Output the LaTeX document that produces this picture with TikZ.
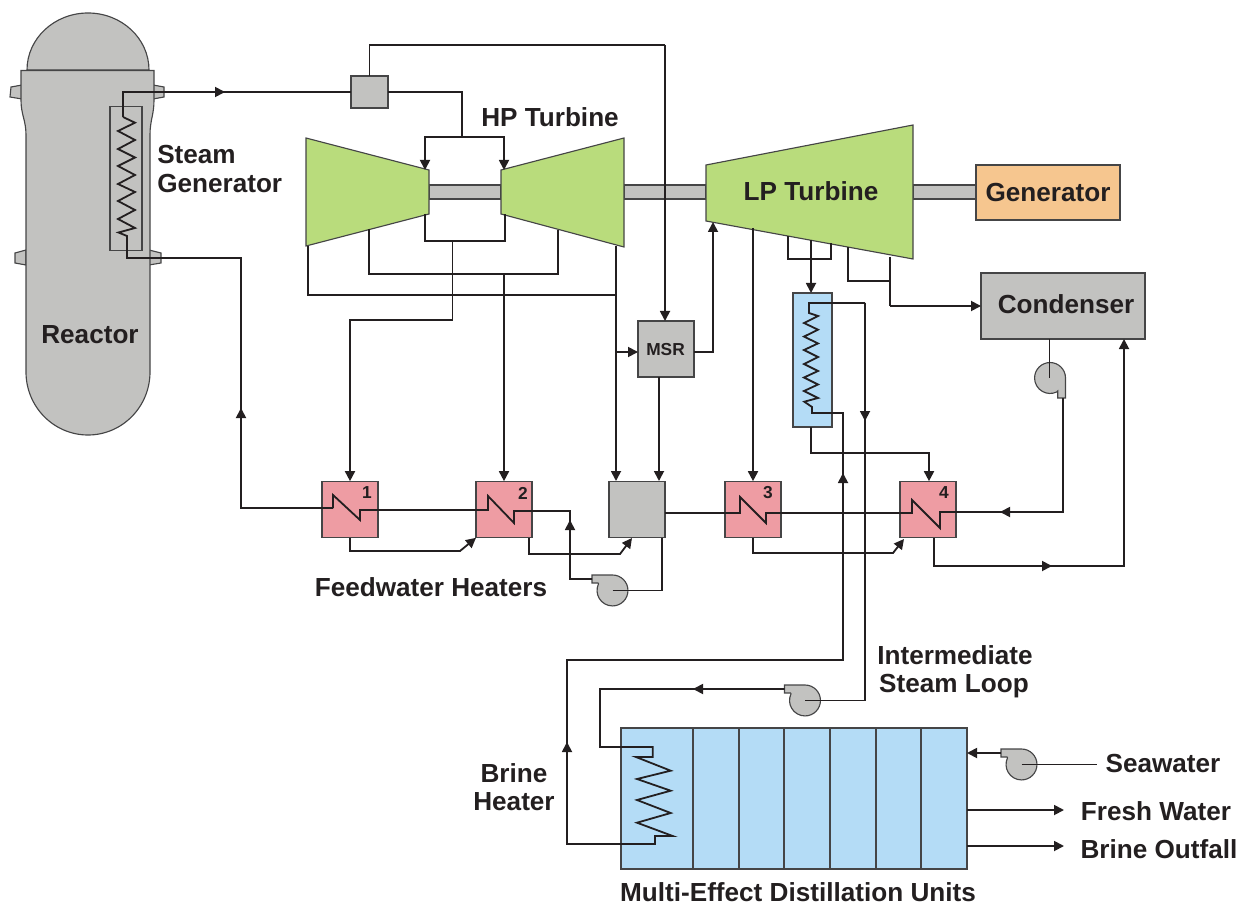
\documentclass[tikz,border=0pt]{standalone}
\usepackage{fontspec}
\setmainfont{Liberation Sans}
\usetikzlibrary{arrows.meta,calc}
\definecolor{ink}{HTML}{231F20}
\definecolor{edgegray}{HTML}{454546}
\definecolor{gfill}{HTML}{C2C2C0}
\definecolor{tfill}{HTML}{B9DC7C}
\definecolor{hfill}{HTML}{EE9CA3}
\definecolor{bfill}{HTML}{B4DCF6}
\definecolor{ofill}{HTML}{F6C68F}
\tikzset{
  ln/.style={draw=ink,line width=1.35pt,line join=miter},
  arr/.style={ln,-{Triangle[length=7.5pt,width=7.5pt]}},
  midarr/.style={draw=ink,line width=1.35pt,-{Triangle[length=7.5pt,width=7.5pt]}},
  shell/.style={draw=edgegray,line width=0.85pt},
  box/.style={shell,inner sep=0pt,outer sep=0pt,anchor=center},
  hx/.style={box,fill=hfill,minimum width=42pt,minimum height=42.5pt},
  num/.style={font=\bfseries\fontsize{13}{15}\selectfont,text=ink,inner sep=0pt},
  lab/.style={font=\bfseries\fontsize{19.6}{23}\selectfont,text=ink,inner sep=0pt},
  pumpA/.pic={
    \draw[shell,fill=gfill] (-20.5,-15.5) -- (0,-15.5) arc[start angle=90,end angle=-205,radius=11.6pt] -- (-14.5,-7.5) -- (-20.5,-7.5) -- cycle;
    \coordinate (-c) at (0,0);
    \coordinate (-o) at (-20.5,-11.5);
  }
}
\begin{document}
\begin{tikzpicture}[x=0.75pt,y=-0.75pt]
\useasboundingbox (0,0) rectangle (1248,905);

% reactor
\draw[shell,fill=gfill] (27,70) arc[start angle=180,end angle=0,x radius=45.75pt,y radius=42.75pt] -- cycle;
\foreach \a/\b/\c/\d/\e/\f/\g/\h in {22/85/11/87/10/97/22/99, 153/85/164/87/164/97/153/99, 26/250/15/253/15/263/26/265, 149/250/161/253/161/263/149/265}
  \draw[shell,fill=gfill] (\a,\b) -- (\c,\d) -- (\e,\f) -- (\g,\h) -- cycle;
\draw[shell,fill=gfill] (21,70.5) -- (154,70.5) -- (154,100) .. controls (154,115) and (150,120) .. (150,135) -- (150,372)
  arc[start angle=0,end angle=-180,x radius=46.5pt,y radius=47.25pt] -- (26,135) .. controls (26,120) and (21,115) .. (21,100) -- cycle;
\node[box,minimum width=24pt,minimum height=108pt] (sg) at (126,178.5) {};

% shafts
\node[box,fill=gfill,minimum width=54pt,minimum height=10.5pt] (sh1) at (465,192) {};
\node[box,fill=gfill,minimum width=61.5pt,minimum height=10.5pt] (sh2) at (665,192) {};
\node[box,fill=gfill,minimum width=47.25pt,minimum height=10.5pt] (sh3) at (944.5,192) {};

% turbines
\draw[shell,fill=tfill] (306,138) -- (429,170) -- (429,214) -- (306,246) -- cycle;
\draw[shell,fill=tfill] (501,170) -- (624,138) -- (624,247) -- (501,214) -- cycle;
\draw[shell,fill=tfill] (706,165) -- (913,125) -- (913,259) -- (706,221) -- cycle;

% boxes
\node[box,fill=gfill,minimum width=27.75pt,minimum height=24pt] (valve) at (369.5,92) {};
\node[box,fill=ofill,minimum width=108pt,minimum height=41.25pt] (gen) at (1048,192.5) {};
\node[box,fill=gfill,minimum width=123pt,minimum height=49.5pt] (cond) at (1063,306) {};
\node[box,fill=gfill,minimum width=42pt,minimum height=42pt] (msr) at (666,349) {};
\node[box,fill=bfill,minimum width=29.25pt,minimum height=100.5pt] (bh) at (812.5,360) {};
\node[hx] (h1) at (350,509.5) {};
\node[hx] (h2) at (504,509.5) {};
\node[box,fill=gfill,minimum width=42pt,minimum height=42.5pt] (mix) at (637,509.5) {};
\node[hx] (h3) at (753,509.5) {};
\node[hx] (h4) at (928,509.5) {};
\node[box,fill=bfill,minimum width=259.5pt,minimum height=105.75pt] (med) at (794,798.5) {};
\foreach \x/\n in {693/a,739/b,784/c,830/d,876/e,921/f}
  \draw[shell] (\x,728) -- (\x,869);

% pumps
\pic (p1) at (612.5,590.5) {pumpA};
\pic (p2) at (805,700.5) {pumpA};
\pic (p3) at (1021.5,764.5) {pumpA};
\draw[shell,fill=gfill] (1065.5,378) arc[start angle=0,end angle=295,radius=11.6pt] -- (1057.7,391) -- (1057.7,398) -- (1065.5,398) -- cycle;
\coordinate (p4c) at (1049.5,378);
\coordinate (p4o) at (1063,398);

% ports
\coordinate (tL1) at (425,170);
\coordinate (tR1) at (504,170);
\coordinate (split) at (462,137);
\coordinate (lpin) at (713,222);
\coordinate (msrtop) at (665,321);
\coordinate (mixA) at (616,481);
\coordinate (mixB) at (659,481);
\coordinate (h1in) at (333,508);
\coordinate (h2in) at (488,510);
\coordinate (freshend) at (1064,810);
\coordinate (brineend) at (1064,846);
\coordinate (seaend) at (1097,764.5);

% steam line and steam generator
\draw[ln] (123,117) -- (123,92) -- (valve.west);
\draw[midarr] (215,92) -- (225,92);
\draw[ln] (123,117) -- (135,122.7) -- (118,131) -- (135,140) -- (118,149) -- (135,157.5) -- (118,166) -- (135,175) -- (118,184) -- (135,192) -- (118,201) -- (135,210) -- (118,219) -- (135,228) -- (118.5,232.5) -- (127,236) -- (127,258) -- (241,258) -- (241,508) -- (h1in);
\draw[midarr] (241,418) -- (241,408);

% feed lines
\draw[ln] (h1in) -- (333,495) -- (360,520) -- (360,510) -- (h2in) -- (488,496) -- (514,523) -- (514,511) -- (570,511) -- (570,579) -- (p1-o);
\draw[midarr] (570,530) -- (570,520);
\draw[ln] (p1-c) -- (662,590.5) -- (662,538);
\draw[ln] (mix.east |- 0,513) -- (740,513) -- (740,497) -- (766,523) -- (766,513) -- (912,513) -- (912,500) -- (940,528) -- (940,512) -- (1063,512) -- (p4o);
\draw[midarr] (1010,512) -- (1000,512);
\draw[ln] (cond.south -| p4c) -- (p4c);

% steam to turbines
\draw[ln] (valve.north) -- (369.5,45) -- (665,45);
\draw[arr] (665,45) -- (msrtop);
\draw[ln] (valve.east) -- (462,92) -- (split);
\draw[arr] (split) -- (425,137) -- (tL1);
\draw[arr] (split) -- (504,137) -- (tR1);

% turbine extractions
\draw[ln] (425,214) -- (425,241) -- (505,241) -- (505,214);
\draw[arr] (452.5,241) -- (452.5,320) -- (350,320) -- (h1.north);
\draw[ln] (369,229) -- (369,274) -- (558,274) -- (558,230);
\draw[arr] (504,274) -- (h2.north);
\draw[ln] (308,246) -- (308,295) -- (616,295);
\draw[arr] (616,246) -- (mixA);
\draw[arr] (616,352) -- (msr.west |- 0,352);
\draw[arr] (msr.east |- 0,352) -- (713,352) -- (lpin);
\draw[arr] (659,377) -- (mixB);

% LP extractions
\draw[arr] (753,228) -- (h3.north);
\draw[ln] (788,236) -- (788,259) -- (831,259) -- (831,243);
\draw[arr] (811,240) -- (bh.north -| 811,0);
\draw[ln] (848,247) -- (848,281) -- (890,281);
\draw[ln] (890,257) -- (890,306);
\draw[arr] (890,306) -- (cond.west);

% intermediate heater
\draw[ln] (865,303) -- (809,303) -- (809,313) -- (818,316) -- (804,323) -- (818,329.7) -- (804,336.6) -- (818,343.4) -- (804,350) -- (818,357) -- (804,364) -- (818,371) -- (804,377.5) -- (818,384.5) -- (804,391) -- (818,398) -- (804.3,401.7) -- (812,407) -- (812,413) -- (843,413) -- (843,660) -- (567,660) -- (567,844) -- (655,844) -- (655,836) -- (672.7,836) -- (637,822.7) -- (670.7,813) -- (637,800) -- (670.7,790.7) -- (637,779) -- (670.7,770.7) -- (636,757) -- (652.7,757) -- (652.7,747) -- (600,747) -- (600,689) -- (p2-o |- 0,689);
\draw[ln] (865,303) -- (865,700.5) -- (p2-c);
\draw[midarr] (865,411) -- (865,421);
\draw[midarr] (843,483) -- (843,473);
\draw[midarr] (567,752) -- (567,742);
\draw[midarr] (703,689) -- (693,689);
\draw[arr] (811,427) -- (811,453) -- (929,453) -- (h4.north -| 929,0);

% condensate
\draw[arr] (h1.south) -- (350,551) -- (460,551) -- (h2.south west);
\draw[arr] (529,538) -- (529,554) -- (620,554) -- (632,538);
\draw[arr] (h3.south) -- (753,553) -- (893,553) -- (904,539);
\draw[arr] (934,538) -- (934,566) -- (1124,566) -- (1124,339);
\draw[midarr] (1042,566) -- (1052,566);

% MED outer
\draw[arr] (p3-o) -- (med.east |- p3-o);
\draw[ln] (p3-c) -- (seaend);
\draw[arr] (967,810) -- (freshend);
\draw[arr] (967,846) -- (brineend);

% labels
\node[lab] (tReactor) at (90,335) {Reactor};
\node[lab,anchor=west] (tSteam) at (157,155) {Steam};
\node[lab,anchor=west] (tGen) at (157,184) {Generator};
\node[lab] (tHP) at (550,117) {HP Turbine};
\node[lab] (tLP) at (811,191) {LP Turbine};
\node[lab] (tG) at (gen) {Generator};
\node[lab] (tC) at (1066,304) {Condenser};
\node[num] (tM) at (665.5,350) {MSR};
\node[num] at (367,493) {1};
\node[num] at (523,493) {2};
\node[num] at (768,493) {3};
\node[num] at (944,493) {4};
\node[lab] (tF) at (431,587) {Feedwater Heaters};
\node[lab] (tI) at (955,655) {Intermediate};
\node[lab] (tS) at (954,686.5) {Steam Loop};
\node[lab] (tB) at (514,773) {Brine};
\node[lab] (tH) at (514,802) {Heater};
\node[lab] (tSea) at (1163,763) {Seawater};
\node[lab] (tFW) at (1156,811) {Fresh Water};
\node[lab] (tBO) at (1159,849) {Brine Outfall};
\node[lab] (tMED) at (798,892) {Multi-Effect Distillation Units};
\end{tikzpicture}
\end{document}
